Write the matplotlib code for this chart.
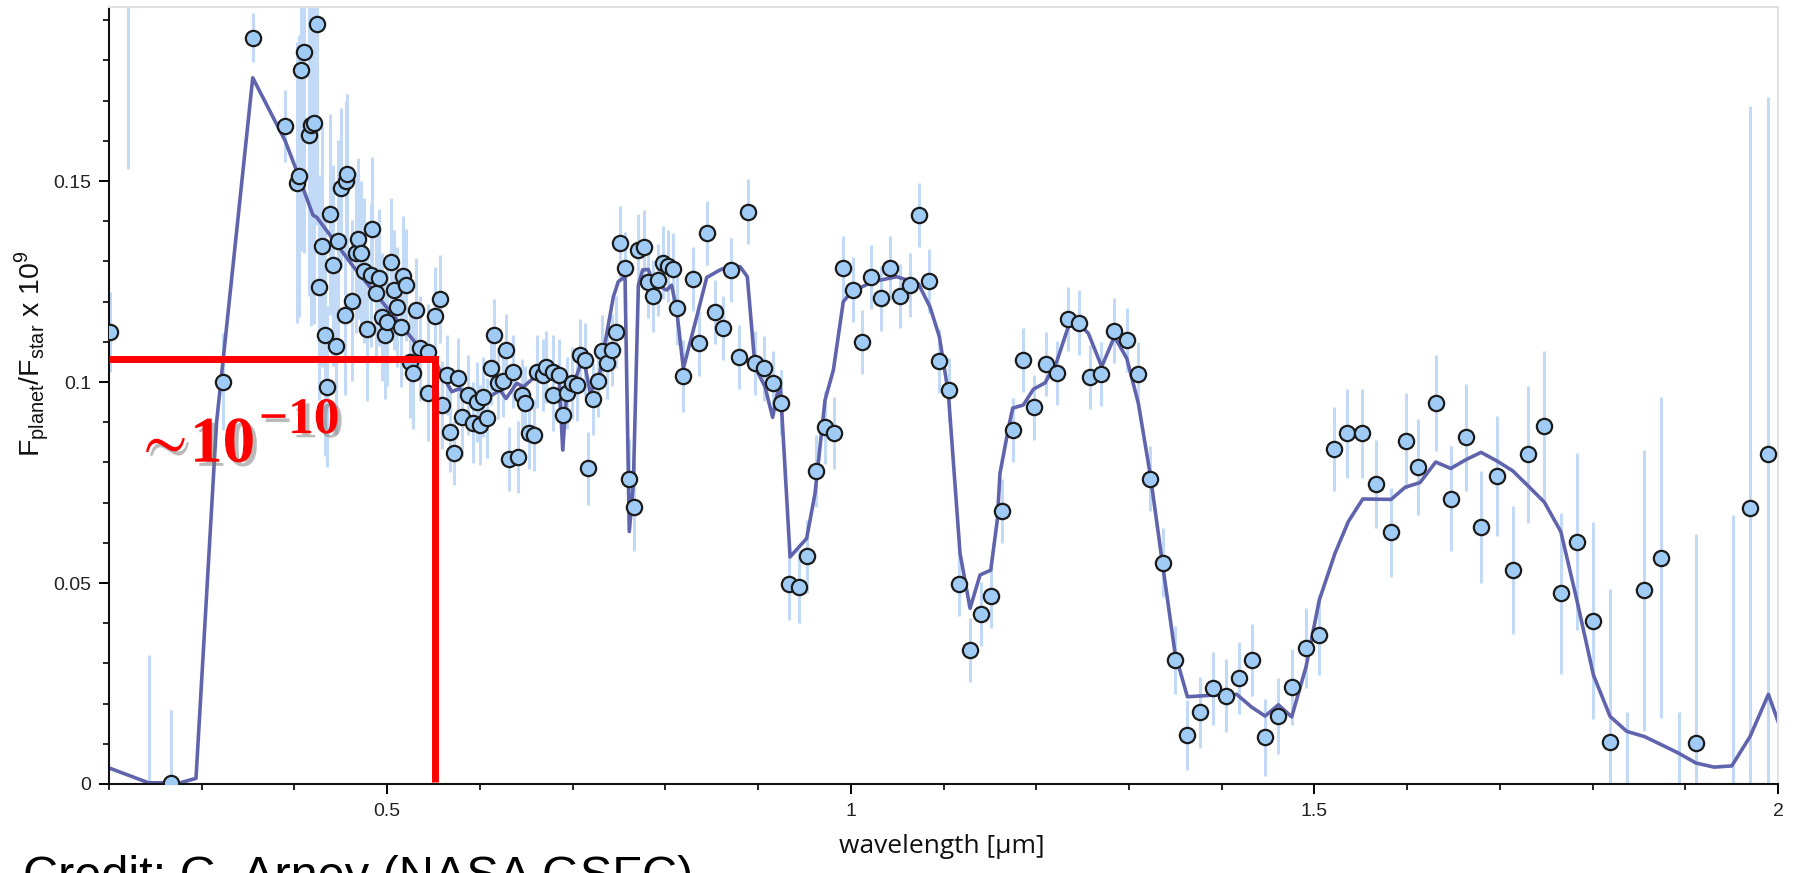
import matplotlib
matplotlib.use("Agg")
import matplotlib.pyplot as plt
import matplotlib.patheffects as pe

plt.rcParams['font.family'] = ['Liberation Sans', 'DejaVu Sans']
plt.rcParams['mathtext.fontset'] = 'custom'
plt.rcParams['mathtext.sf'] = 'Liberation Sans'
plt.rcParams['mathtext.rm'] = 'Liberation Serif:bold'
plt.rcParams['mathtext.bf'] = 'Liberation Serif:bold'
plt.rcParams['mathtext.fallback'] = 'stix'

# measured points: wavelength [um], flux ratio x 1e9, error
wl = [0.2015, 0.22, 0.2426, 0.267, 0.323, 0.355, 0.390, 0.403, 0.405, 0.407,
      0.410, 0.416, 0.418, 0.421, 0.424, 0.426, 0.430, 0.433, 0.435, 0.438,
      0.442, 0.445, 0.447, 0.450, 0.454, 0.456, 0.457, 0.462, 0.466, 0.469,
      0.472, 0.475, 0.478, 0.483, 0.484, 0.488, 0.491, 0.494, 0.498, 0.500,
      0.504, 0.507, 0.511, 0.515, 0.517, 0.520, 0.525, 0.528, 0.531, 0.535,
      0.544, 0.5444, 0.552, 0.557, 0.5588, 0.5649, 0.5678, 0.5724, 0.5767, 0.5804,
      0.5875, 0.5922, 0.5966, 0.600, 0.6037, 0.6073, 0.6117, 0.6152, 0.6199, 0.6253,
      0.6282, 0.6318, 0.6361, 0.6415, 0.6451, 0.6487, 0.6533, 0.6584, 0.6613, 0.6677,
      0.6713, 0.6785, 0.6792, 0.6857, 0.6893, 0.6936, 0.699, 0.7044, 0.708, 0.7134,
      0.717, 0.7217, 0.7271, 0.7314, 0.7368, 0.7422, 0.7468, 0.7511, 0.7565, 0.7611,
      0.7665, 0.7709, 0.777, 0.781, 0.787, 0.7924, 0.7971, 0.8032, 0.8086, 0.8129,
      0.8194, 0.8295, 0.8366, 0.8453, 0.8535, 0.8619, 0.8708, 0.8798, 0.8888, 0.8967,
      0.9068, 0.9157, 0.9247, 0.9337, 0.9442, 0.9531, 0.9625, 0.9722, 0.9823, 0.9912,
      1.002, 1.0118, 1.0214, 1.0323, 1.0423, 1.053, 1.0638, 1.0739, 1.0847, 1.0955,
      1.1063, 1.117, 1.1286, 1.1401, 1.1509, 1.1628, 1.1746, 1.1861, 1.198, 1.2106,
      1.2221, 1.2346, 1.2465, 1.258, 1.27, 1.2843, 1.2976, 1.3101, 1.3227, 1.3364,
      1.3497, 1.363, 1.3767, 1.3903, 1.4043, 1.4187, 1.4324, 1.4468, 1.4611, 1.4755,
      1.491, 1.5053, 1.5212, 1.5355, 1.5517, 1.5665, 1.5827, 1.5988, 1.6121, 1.6308,
      1.647, 1.6635, 1.6797, 1.6966, 1.7139, 1.7307, 1.748, 1.7657, 1.7829, 1.8009,
      1.8189, 1.8368, 1.8559, 1.8739, 1.8931, 1.9116, 1.9514, 1.9698, 1.9896]
flux = [0.1125, 0.215, -0.005, 0.0003, 0.1001, 0.1857, 0.1637, 0.1496, 0.1513, 0.1776,
        0.182, 0.1614, 0.164, 0.1645, 0.189, 0.1236, 0.1338, 0.1117, 0.0988, 0.1417,
        0.1291, 0.109, 0.1352, 0.1482, 0.1168, 0.150, 0.1517, 0.1202, 0.1322, 0.1357,
        0.132, 0.1277, 0.1132, 0.1266, 0.1381, 0.1221, 0.126, 0.1162, 0.1117, 0.115,
        0.1299, 0.1229, 0.1187, 0.1137, 0.1264, 0.1241, 0.105, 0.1022, 0.1179, 0.1084,
        0.1075, 0.0973, 0.1165, 0.1206, 0.0943, 0.1017, 0.0875, 0.0823, 0.1009, 0.0914,
        0.0968, 0.0899, 0.0951, 0.0893, 0.0963, 0.091, 0.1034, 0.1117, 0.0997, 0.1002,
        0.108, 0.0808, 0.1026, 0.0813, 0.0968, 0.0949, 0.0874, 0.0868, 0.1026, 0.1017,
        0.1038, 0.1026, 0.0968, 0.1017, 0.0918, 0.0973, 0.0997, 0.0993, 0.1067, 0.1056,
        0.0785, 0.0957, 0.1003, 0.1078, 0.1048, 0.108, 0.1125, 0.1347, 0.1283, 0.0758,
        0.069, 0.1328, 0.1337, 0.125, 0.1214, 0.1254, 0.1297, 0.1289, 0.128, 0.1183,
        0.1015, 0.1256, 0.1096, 0.137, 0.1175, 0.1134, 0.1279, 0.1063, 0.1424, 0.1048,
        0.1034, 0.0997, 0.0949, 0.0498, 0.0491, 0.0566, 0.0779, 0.0887, 0.0874, 0.1283,
        0.123, 0.110, 0.1262, 0.1208, 0.1283, 0.1214, 0.1241, 0.1415, 0.1252, 0.1052,
        0.098, 0.0497, 0.0333, 0.0423, 0.0468, 0.068, 0.0881, 0.1055, 0.0937, 0.1045,
        0.1023, 0.1156, 0.1148, 0.1013, 0.102, 0.1128, 0.1104, 0.102, 0.076, 0.0551,
        0.0308, 0.0122, 0.0178, 0.0238, 0.022, 0.0264, 0.0308, 0.0116, 0.0169, 0.0242,
        0.0338, 0.0371, 0.0833, 0.0872, 0.0872, 0.0746, 0.0626, 0.0853, 0.0788, 0.0948,
        0.071, 0.0863, 0.0639, 0.0766, 0.0532, 0.082, 0.0891, 0.0474, 0.0603, 0.0406,
        0.0105, -0.010, 0.0482, 0.0563, -0.012, 0.0102, -0.010, 0.0687, 0.082]
err = [0.010, 0.062, 0.037, 0.018, 0.012, 0.006, 0.009, 0.035, 0.035, 0.045,
       0.050, 0.040, 0.050, 0.050, 0.050, 0.028, 0.030, 0.030, 0.020, 0.025,
       0.025, 0.022, 0.025, 0.020, 0.020, 0.020, 0.020, 0.020, 0.020, 0.020,
       0.018, 0.018, 0.018, 0.018, 0.018, 0.017, 0.017, 0.016, 0.016, 0.016,
       0.016, 0.015, 0.015, 0.015, 0.015, 0.014, 0.014, 0.014, 0.013, 0.013,
       0.012, 0.012, 0.012, 0.011, 0.011, 0.010, 0.010, 0.008, 0.010, 0.010,
       0.010, 0.010, 0.010, 0.010, 0.010, 0.010, 0.009, 0.009, 0.009, 0.009,
       0.009, 0.008, 0.009, 0.009, 0.009, 0.009, 0.009, 0.009, 0.009, 0.009,
       0.009, 0.009, 0.009, 0.009, 0.009, 0.009, 0.009, 0.009, 0.009, 0.009,
       0.009, 0.009, 0.009, 0.009, 0.009, 0.009, 0.009, 0.009, 0.009, 0.010,
       0.011, 0.009, 0.009, 0.009, 0.009, 0.009, 0.009, 0.009, 0.009, 0.009,
       0.009, 0.008, 0.008, 0.008, 0.008, 0.008, 0.008, 0.008, 0.008, 0.008,
       0.008, 0.008, 0.008, 0.009, 0.009, 0.009, 0.009, 0.009, 0.009, 0.008,
       0.008, 0.008, 0.008, 0.008, 0.008, 0.008, 0.008, 0.008, 0.008, 0.008,
       0.008, 0.008, 0.008, 0.008, 0.008, 0.008, 0.008, 0.008, 0.008, 0.008,
       0.008, 0.008, 0.008, 0.008, 0.008, 0.008, 0.008, 0.008, 0.008, 0.0085,
       0.0085, 0.0087, 0.0088, 0.009, 0.009, 0.009, 0.009, 0.0095, 0.0095, 0.0095,
       0.010, 0.010, 0.0105, 0.011, 0.011, 0.011, 0.011, 0.012, 0.012, 0.012,
       0.013, 0.0133, 0.014, 0.015, 0.016, 0.017, 0.0185, 0.020, 0.022, 0.0245,
       0.038, 0.028, 0.035, 0.040, 0.030, 0.052, 0.077, 0.100, 0.089]

# model spectrum
model_wl = [0.2, 0.2426, 0.2766, 0.2938, 0.316, 0.355, 0.390, 0.4006, 0.420, 0.424,
            0.4636, 0.535, 0.5498, 0.5696, 0.5785, 0.5911, 0.6073, 0.6217, 0.6282, 0.6397,
            0.6468, 0.6594, 0.6702, 0.6792, 0.6857, 0.6893, 0.6936, 0.7044, 0.7115, 0.7187,
            0.7277, 0.7349, 0.7439, 0.7493, 0.7565, 0.7611, 0.7655, 0.7709, 0.7755, 0.7816,
            0.7871, 0.8014, 0.8068, 0.8122, 0.8194, 0.8338, 0.8446, 0.859, 0.8698, 0.8806,
            0.8884, 0.8967, 0.9075, 0.9157, 0.9236, 0.9345, 0.9524, 0.9614, 0.9722, 0.9812,
            0.9919, 1.001, 1.0243, 1.0495, 1.0728, 1.0854, 1.0955, 1.1052, 1.1178, 1.1286,
            1.1394, 1.1509, 1.158, 1.1609, 1.17, 1.1746, 1.1861, 1.1969, 1.2095, 1.2221,
            1.2346, 1.2473, 1.2562, 1.2706, 1.2843, 1.2976, 1.3101, 1.3227, 1.3371, 1.3497,
            1.363, 1.391, 1.4162, 1.4324, 1.4468, 1.4611, 1.4755, 1.491, 1.5053, 1.5222,
            1.5366, 1.5521, 1.5827, 1.5977, 1.6139, 1.6308, 1.647, 1.6635, 1.6797, 1.6966,
            1.7139, 1.7307, 1.748, 1.7657, 1.7829, 1.8009, 1.8189, 1.8368, 1.8559, 1.8739,
            1.8925, 1.9116, 1.931, 1.9501, 1.9698, 1.9896, 2.0015]
model_flux = [0.004, 0.0003, 0.0003, 0.0014, 0.090, 0.1757, 0.160, 0.1536, 0.1415, 0.141,
              0.1287, 0.1085, 0.1059, 0.0976, 0.0984, 0.0943, 0.0959, 0.098, 0.0959, 0.0997,
              0.0988, 0.1013, 0.103, 0.1017, 0.0997, 0.0831, 0.0972, 0.1017, 0.1063, 0.0976,
              0.1001, 0.1096, 0.1212, 0.125, 0.1262, 0.0628, 0.0748, 0.1241, 0.1279, 0.128,
              0.1245, 0.1229, 0.1241, 0.1179, 0.1034, 0.1162, 0.126, 0.1279, 0.1289, 0.1287,
              0.1262, 0.1038, 0.0988, 0.0912, 0.1005, 0.0565, 0.0611, 0.0723, 0.0955, 0.103,
              0.120, 0.1225, 0.125, 0.1262, 0.1245, 0.1187, 0.1113, 0.0972, 0.0574, 0.0437,
              0.052, 0.0532, 0.0657, 0.0773, 0.0885, 0.0935, 0.0943, 0.0982, 0.0998, 0.1051,
              0.1138, 0.1142, 0.1121, 0.1038, 0.1113, 0.1059, 0.0947, 0.0773, 0.0532, 0.0325,
              0.0217, 0.0221, 0.0223, 0.0191, 0.0169, 0.0197, 0.0167, 0.0292, 0.0458, 0.0574,
              0.0653, 0.0709, 0.0708, 0.0738, 0.075, 0.0801, 0.0785, 0.0807, 0.0825, 0.0804,
              0.0779, 0.0741, 0.0701, 0.0628, 0.0459, 0.0271, 0.0168, 0.0131, 0.0118, 0.0098,
              0.0077, 0.0052, 0.0042, 0.0045, 0.0118, 0.0223, 0.0146]

xticks = [0.5, 1, 1.5, 2]
xticklabels = ['0.5', '1', '1.5', '2']
xminor = [0.2, 0.3, 0.4, 0.6, 0.7, 0.8, 0.9, 1.1, 1.2, 1.3, 1.4, 1.6, 1.7, 1.8, 1.9]
yticks = [0, 0.05, 0.1, 0.15]
yticklabels = ['0', '0.05', '0.1', '0.15']
yminor = [0.01, 0.02, 0.03, 0.04, 0.06, 0.07, 0.08, 0.09, 0.11, 0.12, 0.13, 0.14,
          0.16, 0.17, 0.18, 0.19]

# red marker of the 10^-10 level
red_x = [0.2, 0.552, 0.552]
red_y = [0.1057, 0.1057, 0.0005]

fig = plt.figure(figsize=(17.96, 8.73), dpi=100)
ax = fig.add_axes([0.0607, 0.10195, 0.9293, 0.89003])

ax.errorbar(wl, flux, yerr=err, fmt='none', ecolor='#c3daf7', elinewidth=2.2,
            capsize=0, zorder=1)
ax.plot(model_wl, model_flux, color='#6064ad', lw=2.6, zorder=2)
ax.plot(wl, flux, 'o', ms=11, mfc='#a0cbf4', mec='#1b1b1b', mew=1.6, zorder=3)
ax.plot(red_x, red_y, color='#ff0000', lw=5, solid_joinstyle='miter',
        solid_capstyle='butt', zorder=5)

shadow = [pe.withSimplePatchShadow(offset=(3, -3), shadow_rgbFace='#777777', alpha=0.5)]
t1 = ax.text(0.223, 0.0801, r'$\sim\!\mathbf{10}$', color='#ff0000',
             fontsize=47, va='baseline', ha='left', zorder=6)
t1.set_path_effects(shadow)
t2 = ax.annotate(r'$\mathbf{-10}$', xy=(1, 0), xycoords=t1, xytext=(3, 30),
                 textcoords='offset points', color='#ff0000', fontsize=37,
                 va='baseline', ha='left', zorder=6)
t2.set_path_effects(shadow)

ax.set_xlim(0.2, 2.0)
ax.set_ylim(0, 0.1933)
ax.set_xticks(xticks)
ax.set_xticklabels(xticklabels)
ax.set_xticks(xminor, minor=True)
ax.set_yticks(yticks)
ax.set_yticklabels(yticklabels)
ax.set_yticks(yminor, minor=True)
ax.tick_params(which='major', length=7, width=1.4, labelsize=14,
               labelcolor='#222222', direction='out')
ax.tick_params(which='minor', length=4.5, width=1.2, direction='out')
ax.tick_params(axis='x', which='major', pad=7)
ax.tick_params(axis='y', which='major', pad=6)

for s in ['left', 'bottom']:
    ax.spines[s].set_color('#111111')
    ax.spines[s].set_linewidth(1.5)
for s in ['top', 'right']:
    ax.spines[s].set_color('#e2e2e2')
    ax.spines[s].set_linewidth(1.5)

fig.text(0.0175, 0.5945, r'F$_{\mathsf{planet}}$/F$_{\mathsf{star}}$ x 10$^{\mathsf{9}}$',
         rotation=90, ha='center', va='center', fontsize=20.5, color='#111111')
fig.text(0.5245, 0.0229, 'wavelength [µm]', family=['Open Sans', 'DejaVu Sans'],
         fontsize=19, ha='center', va='baseline', color='#111111')
fig.text(0.0128, -0.0195, 'Credit: G. Arney (NASA GSFC)', fontsize=35,
         ha='left', va='baseline', color='#000000')

fig.savefig('out.png', dpi=100)
